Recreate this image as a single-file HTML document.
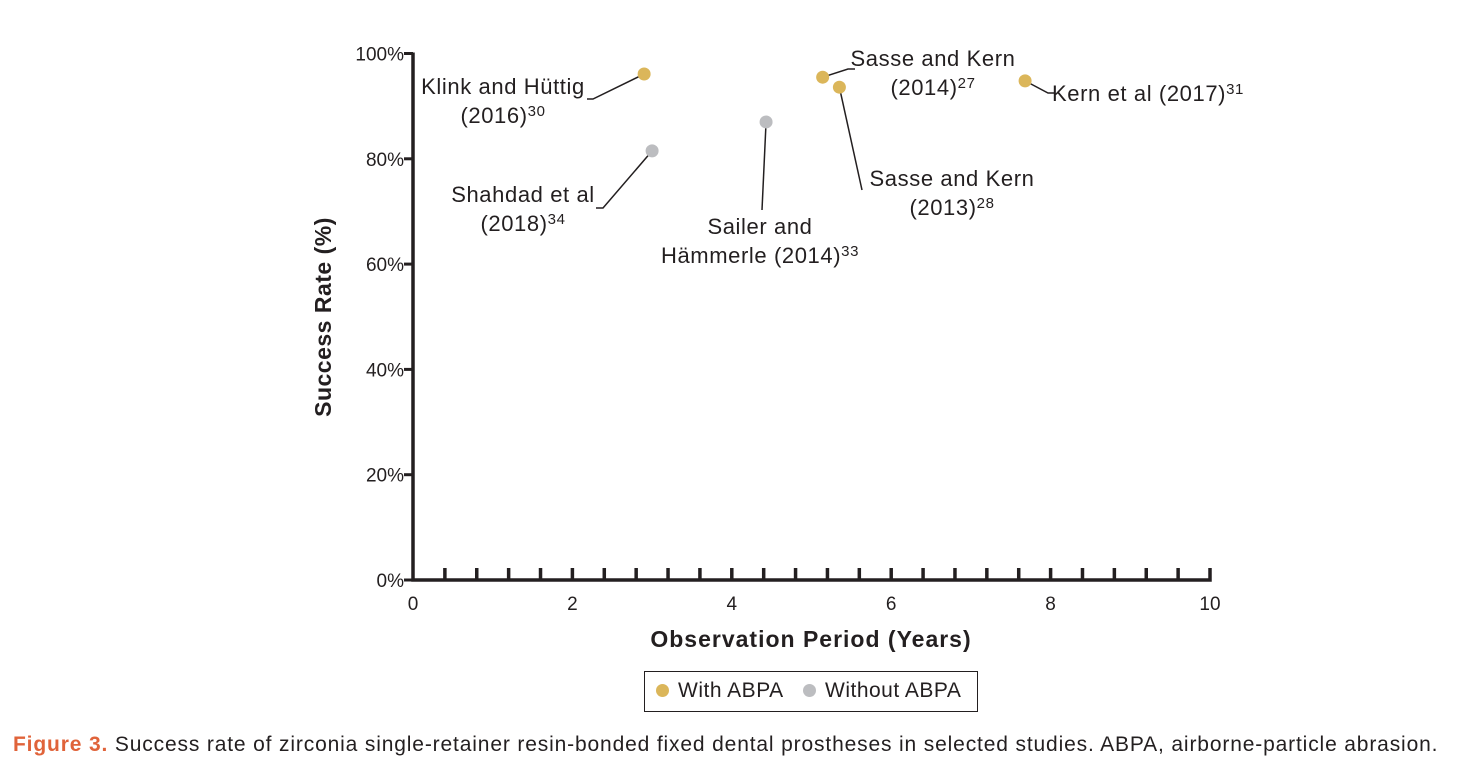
<!DOCTYPE html>
<html><head><meta charset="utf-8"><style>
body{margin:0;background:#fff;width:1459px;height:769px;overflow:hidden;font-family:"Liberation Sans",sans-serif}
svg text{font-family:"Liberation Sans",sans-serif}
</style></head><body>
<svg id="c" width="1459" height="769"></svg>
<script>
const studies=["Klink and Hüttig (2016)","Shahdad et al (2018)","Sailer and Hämmerle (2014)","Sasse and Kern (2014)","Sasse and Kern (2013)","Kern et al (2017)"];
const years=[2.9,3.0,4.43,5.14,5.35,7.68];
const success=[96.1,81.5,87.0,95.5,93.6,94.8];
const abpa=[true,false,false,true,true,true];
const xTicks=[0,2,4,6,8,10];
const yTicks=[0,20,40,60,80,100];
const NS="http://www.w3.org/2000/svg";
const svg=document.getElementById('c');
const X=v=>413+v*79.7, Y=v=>580-v*5.265;
function el(t,a,txt){const e=document.createElementNS(NS,t);for(const k in a)e.setAttribute(k,a[k]);if(txt!==undefined)e.textContent=txt;svg.appendChild(e);return e;}
let ax=el('path',{d:`M${X(0)} ${Y(100)-1} V${Y(0)} H${X(10)} V${Y(0)-12}`,stroke:'#231f20','stroke-width':3.5,fill:'none'});


for(let i=1;i<25;i++){const x=X(i*0.4);const t=el('line',{x1:x,x2:x,y1:Y(0),y2:Y(0)-12,stroke:'#231f20','stroke-width':3.5});

}
yTicks.forEach(v=>{const t=el('line',{x1:X(0),x2:X(0)-9,y1:Y(v),y2:Y(v),stroke:'#231f20','stroke-width':3});


const l=el('text',{x:X(0)-9,y:Y(v)+7,'text-anchor':'end','font-size':19,fill:'#231f20'},v+'%');

});
xTicks.forEach(v=>{const l=el('text',{x:X(v),y:Y(0)+30,'text-anchor':'middle','font-size':19,fill:'#231f20'},v);

});
let xt=el('text',{x:811,y:647,'text-anchor':'middle','font-size':23,'font-weight':'bold',fill:'#231f20','letter-spacing':1},'Observation Period (Years)');


let yt=el('text',{x:0,y:0,'text-anchor':'middle','font-size':23,'font-weight':'bold',fill:'#231f20','letter-spacing':0.5,transform:'translate(331,317) rotate(-90)'},'Success Rate (%)');


const labs=[
 ['Klink and Hüttig','(2016)','30',503,94,593,99,587],
 ['Shahdad et al','(2018)','34',523,202,603,208,596],
 ['Sailer and','Hämmerle (2014)','33',760,234,762,210,762],
 ['Sasse and Kern','(2014)','27',933,66,848,69,855],
 ['Sasse and Kern','(2013)','28',952,186,862,190,862],
 ['Kern et al (2017)','','31',1148,101,1048,93,1055]];
studies.forEach((s,i)=>{const px=X(years[i]),py=Y(success[i]);const L=labs[i];
const ln=el('polyline',{points:`${px},${py} ${L[5]},${L[6]} ${L[7]},${L[6]}`,stroke:'#231f20','stroke-width':1.5,fill:'none'});


const t=el('text',{x:L[3],y:L[4],'text-anchor':'middle','font-size':22,fill:'#231f20','letter-spacing':0.6});


if(L[1]){const a=document.createElementNS(NS,'tspan');a.setAttribute('x',L[3]);a.textContent=L[0];t.appendChild(a);
const b=document.createElementNS(NS,'tspan');b.setAttribute('x',L[3]);b.setAttribute('dy',29);b.textContent=L[1];t.appendChild(b);
const c=document.createElementNS(NS,'tspan');c.setAttribute('dy',-7);c.setAttribute('font-size',15);c.textContent=L[2];t.appendChild(c);}
else{t.textContent=L[0];const c=document.createElementNS(NS,'tspan');c.setAttribute('dy',-7);c.setAttribute('font-size',15);c.textContent=L[2];t.appendChild(c);}
const p=el('circle',{cx:px,cy:py,r:6.5,fill:abpa[i]?'#dbb65a':'#bcbdc0'});

});
</script>
<div style="position:absolute;left:644px;top:671px;width:334px;height:41px;border:1.5px solid #231f20;box-sizing:border-box;font-size:21px;color:#231f20;line-height:38px;letter-spacing:0.5px">
<span style="position:absolute;left:11px"><span style="display:inline-block;width:13px;height:13px;border-radius:50%;background:#dbb65a;margin-right:9px"></span>With ABPA</span>
<span style="position:absolute;left:158px"><span style="display:inline-block;width:13px;height:13px;border-radius:50%;background:#bcbdc0;margin-right:9px"></span>Without ABPA</span>
</div>
<div style="position:absolute;left:13px;top:733px;font-size:21px;color:#231f20;white-space:nowrap;letter-spacing:0.85px"><b style="color:#e0633a">Figure 3.</b> Success rate of zirconia single-retainer resin-bonded fixed dental prostheses in selected studies. ABPA, airborne-particle abrasion.</div>
</body></html>
